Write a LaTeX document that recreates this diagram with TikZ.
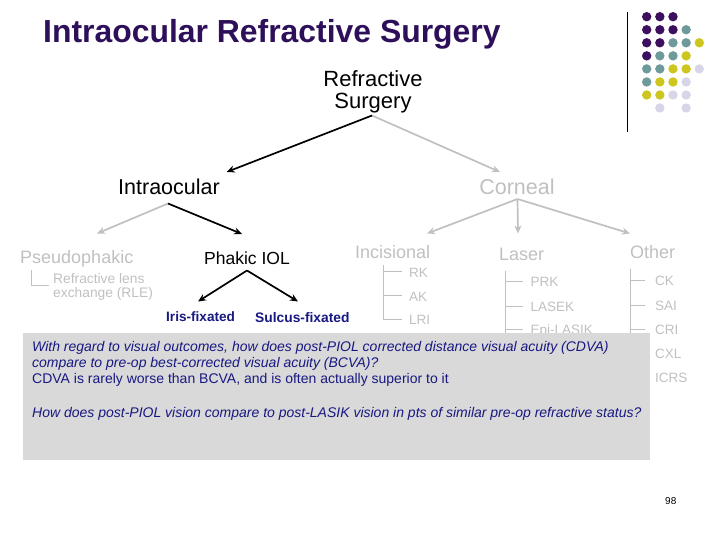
\documentclass[tikz,border=0pt]{standalone}
\usepackage{fontspec}
\setmainfont{Liberation Sans}
\usetikzlibrary{arrows.meta}
\definecolor{titlepurple}{RGB}{46,16,90}
\definecolor{dotpurple}{RGB}{60,16,94}
\definecolor{dotteal}{RGB}{110,154,156}
\definecolor{dotyellow}{RGB}{204,198,30}
\definecolor{dotlav}{RGB}{214,214,232}
\definecolor{lgray}{RGB}{192,192,192}
\definecolor{navy}{RGB}{24,24,130}
\definecolor{boxgray}{RGB}{217,217,217}
\tikzset{
  lbl/.style={inner sep=0pt, anchor=base west},
  lblc/.style={inner sep=0pt, anchor=base},
  grayarr/.style={draw=lgray, line width=1.7pt, -{Stealth[length=8pt,width=7pt]}},
  blackarr/.style={draw=black, line width=1.7pt, -{Stealth[length=8pt,width=7pt]}},
  treeline/.style={draw=lgray, line width=0.9pt},
  dot/.style={circle, inner sep=0pt, minimum size=9.4pt},
}
\begin{document}
\begin{tikzpicture}[x=1pt,y=-1pt]
\useasboundingbox (0,0) rectangle (720,540);
% title
\node[lbl, text=titlepurple, font=\fontsize{31.9}{33}\selectfont\bfseries] (title) at (43,42.5) {Intraocular Refractive Surgery};
% rule
\coordinate (ruletop) at (627,12);
\coordinate (rulebot) at (627,132);
\draw[line width=1pt] (ruletop) -- (rulebot);
% dots
\foreach \r/\cols in {0/{dotpurple,dotpurple,dotpurple},
                      1/{dotpurple,dotpurple,dotpurple,dotteal},
                      2/{dotpurple,dotpurple,dotteal,dotteal,dotyellow},
                      3/{dotpurple,dotteal,dotteal,dotyellow},
                      4/{dotteal,dotteal,dotyellow,dotyellow,dotlav},
                      5/{dotteal,dotyellow,dotyellow,dotlav},
                      6/{dotyellow,dotyellow,dotlav,dotlav}} {
  \foreach \c [count=\i from 0] in \cols {
    \node[dot, fill=\c] (d\r\i) at (646.7+13.15*\i, 16.7+13.05*\r) {};
  }
}
\node[dot, fill=dotlav] (d71) at (659.85,108) {};
\node[dot, fill=dotlav] (d73) at (686.15,108) {};

% Main tree
\node[inner sep=0pt, align=center, font=\fontsize{22}{22.5}\selectfont] (rs) at (373,92) {Refractive\\Surgery};
\coordinate (rsb) at (372,115.5);
\node[lblc, font=\fontsize{21.5}{22}\selectfont] (intra) at (169,195) {Intraocular};
\node[lblc, text=lgray, font=\fontsize{21.5}{22}\selectfont] (corn) at (517,195) {Corneal};
\coordinate (intraT) at (226.7,172);
\coordinate (cornT) at (500,172);
\draw[grayarr] (rsb) -- (cornT);
\draw[blackarr] (rsb) -- (intraT);

\coordinate (intrab) at (168,203.5);
\node[lbl, text=lgray, font=\fontsize{18}{18}\selectfont] (pseudo) at (20,263) {Pseudophakic};
\node[lbl, font=\fontsize{17.5}{18}\selectfont] (phakic) at (204,264) {Phakic IOL};
\coordinate (pseudoT) at (97,233.5);
\coordinate (phakicT) at (242,234);
\draw[grayarr] (intrab) -- (pseudoT);
\draw[blackarr] (intrab) -- (phakicT);

\node[anchor=north west, inner sep=0pt, align=left, text=lgray, font=\fontsize{13.8}{14}\selectfont] (rle) at (53,273.2) {Refractive lens\\exchange (RLE)};
\coordinate (rleA) at (31,270);
\coordinate (rleB) at (31,285.5);
\coordinate (rleC) at (49,285.5);
\draw[treeline] (rleA) -- (rleB) -- (rleC);

\coordinate (phakicb) at (247,270.5);
\coordinate (irisT) at (198,301.5);
\coordinate (sulcT) at (298,301.5);
\draw[blackarr] (phakicb) -- (irisT);
\draw[blackarr] (phakicb) -- (sulcT);
\node[lbl, text=navy, font=\fontsize{13.6}{14}\selectfont\bfseries] (iris) at (166,321.5) {Iris-fixated};
\node[lbl, text=navy, font=\fontsize{13.8}{14}\selectfont\bfseries] (sulc) at (255,322.5) {Sulcus-fixated};

% Corneal branches
\coordinate (cornb) at (517.5,199);
\coordinate (incT) at (427,233.5);
\coordinate (lasT) at (518,233.5);
\coordinate (othT) at (630,233.5);
\draw[grayarr] (cornb) -- (incT);
\draw[grayarr] (cornb) -- (lasT);
\draw[grayarr] (cornb) -- (othT);
\node[lbl, text=lgray, font=\fontsize{18}{18}\selectfont] (inc) at (355,258.5) {Incisional};
\node[lbl, text=lgray, font=\fontsize{18}{18}\selectfont] (las) at (499,260) {Laser};
\node[lbl, text=lgray, font=\fontsize{18}{18}\selectfont] (oth) at (630,258.5) {Other};

% Incisional list
\draw[treeline] (383.3,265) -- (383.3,319.3);
\foreach \y/\t/\n in {271.7/RK/rk, 295.7/AK/ak, 319.3/LRI/lri} {
  \draw[treeline] (383.3,\y) -- (401.7,\y);
  \node[lbl, text=lgray, font=\fontsize{13.5}{14}\selectfont] (\n) at (409,\y+5.6) {\t};
}
% Laser list
\draw[treeline] (505,270.7) -- (505,345);
\foreach \y/\t/\n in {281.7/PRK/prk, 306/LASEK/lasek, 329/Epi-LASIK/epi} {
  \draw[treeline] (505,\y) -- (523.3,\y);
  \node[lbl, text=lgray, font=\fontsize{13.5}{14}\selectfont] (\n) at (530.5,\y+5.1) {\t};
}
% Other list
\draw[treeline] (630,269.3) -- (630,377);
\foreach \y/\t/\n in {280.5/CK/ck, 305/SAI/sai, 329/CRI/cri, 353/CXL/cxl, 377/ICRS/icrs} {
  \draw[treeline] (630,\y) -- (645,\y);
  \node[lbl, text=lgray, font=\fontsize{13.5}{14}\selectfont] (\n) at (655,\y+5.3) {\t};
}

% Question box
\fill[boxgray] (23,333) rectangle (649.5,460);
\begin{scope}[font=\fontsize{14}{16}\selectfont, text=navy]
\node[lbl] (q1) at (32,351) {\itshape With regard to visual outcomes, how does post-PIOL corrected distance visual acuity (CDVA)};
\node[lbl] (q2) at (32,367) {\itshape compare to pre-op best-corrected visual acuity (BCVA)?};
\node[lbl] (a1) at (32,383) {CDVA is rarely worse than BCVA, and is often actually superior to it};
\node[lbl] (q3) at (32,417) {\itshape How does post-PIOL vision compare to post-LASIK vision in pts of similar pre-op refractive status?};
\end{scope}

% page number
\node[lbl, font=\fontsize{10}{10}\selectfont] (pg) at (665,504) {98};
\end{tikzpicture}
\end{document}
